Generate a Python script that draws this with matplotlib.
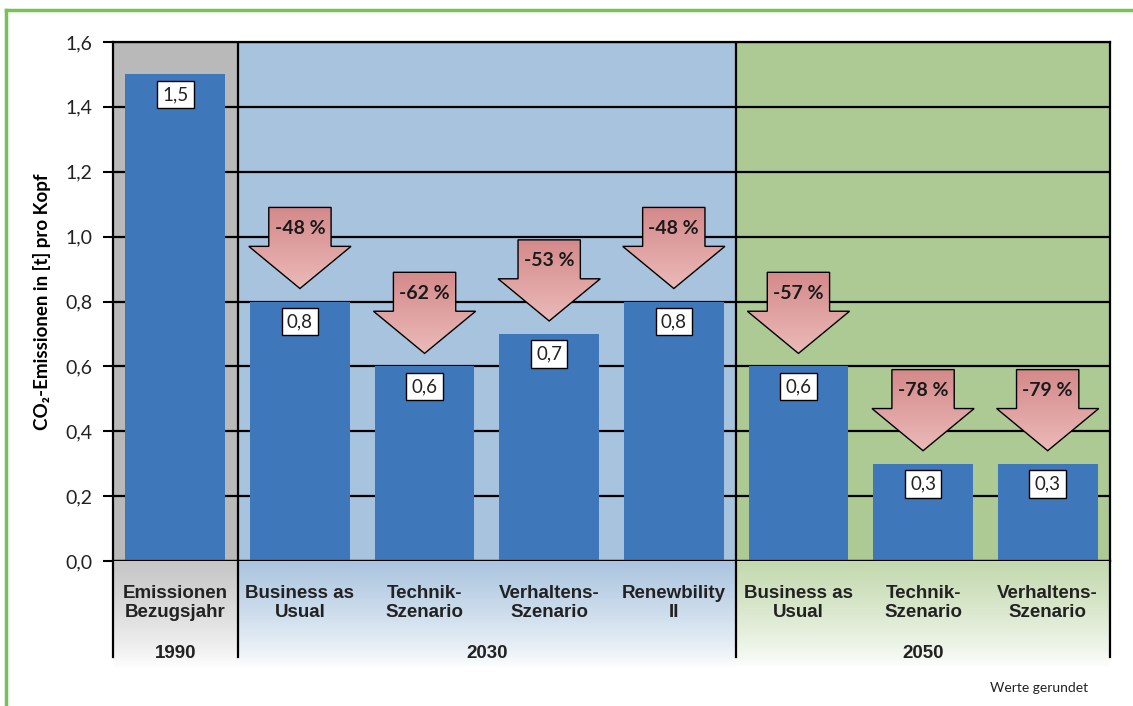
import matplotlib
matplotlib.use("Agg")
import matplotlib.pyplot as plt
import numpy as np
from matplotlib.patches import Polygon
from matplotlib.colors import LinearSegmentedColormap
from matplotlib.lines import Line2D

plt.rcParams['font.family'] = ['Lato', 'DejaVu Sans']

###  DATA  ###

categories = ["Emissionen\nBezugsjahr", "Business as\nUsual", "Technik-\nSzenario",
              "Verhaltens-\nSzenario", "Renewbility\nII", "Business as\nUsual",
              "Technik-\nSzenario", "Verhaltens-\nSzenario"]
values = [1.5, 0.8, 0.6, 0.7, 0.8, 0.6, 0.3, 0.3]
changes = [None, -48, -62, -53, -48, -57, -78, -79]
years = ["1990", "2030", "2050"]
year_first = [0, 1, 5]
year_last = [0, 4, 7]
yticks = [0.0, 0.2, 0.4, 0.6, 0.8, 1.0, 1.2, 1.4, 1.6]

bg_cols = ["#b9b9b9", "#a7c3dd", "#adca94"]
lbl_cols = ["#c6c6c6", "#abc5df", "#c3d9ae"]
bar_col = "#3f78ba"

###  PLOT  ###

W, H = 1133, 706
fig = plt.figure(figsize=(W / 100, H / 100), dpi=100)
ax = fig.add_axes([113 / W, 145 / H, 997 / W, 519 / H])
axl = fig.add_axes([113 / W, 38 / H, 997 / W, 107 / H])

n = len(values)
x = np.arange(n)

# group backgrounds
for i in range(len(years)):
    ax.axvspan(year_first[i] - 0.5, year_last[i] + 0.5, color=bg_cols[i], zorder=0, lw=0)

for t in yticks:
    ax.axhline(t, color='black', lw=1.6, zorder=1)

ax.bar(x, values, width=0.8, color=bar_col, zorder=2)

# value boxes
for xi, v in zip(x, values):
    ax.text(xi, v - 0.062, f"{v:.1f}".replace('.', ','), ha='center', va='center',
            fontsize=13.5, zorder=6, color='#222222',
            bbox=dict(boxstyle='square,pad=0.28', fc='white', ec='black', lw=1))

# arrows
arrow_cmap = LinearSegmentedColormap.from_list("arr", ["#ebbab8", "#d4898a"])
grad = np.linspace(0, 1, 100).reshape(-1, 1)
for xi, v, c in zip(x, values, changes):
    if c is None:
        continue
    tip = v + 0.04
    hb = tip + 0.13
    top = tip + 0.25
    sw, hw = 0.25, 0.41
    verts = [(xi - sw, top), (xi + sw, top), (xi + sw, hb), (xi + hw, hb),
             (xi, tip), (xi - hw, hb), (xi - sw, hb)]
    poly = Polygon(verts, closed=True, fc='none', ec='black', lw=1.0, zorder=5)
    ax.add_patch(poly)
    im = ax.imshow(grad, extent=[xi - hw, xi + hw, tip, top], origin='lower',
                   aspect='auto', cmap=arrow_cmap, zorder=4)
    im.set_clip_path(poly)
    ax.text(xi, tip + 0.185, f"{c} %", ha='center', va='center', fontsize=14,
            fontweight='bold', color='#1a1a1a', zorder=6)

# group separators
for b in [0.5, 4.5]:
    ax.axvline(b, color='black', lw=1.6, zorder=3)

ax.set_xlim(-0.5, n - 0.5)
ax.set_ylim(0, 1.6)
ax.set_yticks(yticks)
ax.set_yticklabels([f"{t:.1f}".replace('.', ',') for t in yticks], fontsize=14, color='#222222')
ax.set_xticks(np.arange(0.5, n - 0.5, 1))
ax.set_xticklabels([])
ax.tick_params(axis='x', length=4, width=1.5, direction='out')
ax.tick_params(axis='y', length=7, width=1.5, direction='out', pad=8)
for s in ax.spines.values():
    s.set_linewidth(1.6)
    s.set_color('black')
ax.set_ylabel("CO₂-Emissionen in [t] pro Kopf", fontsize=13.5, fontweight='bold', labelpad=10)

# label area below the axis
for i in range(len(years)):
    cm = LinearSegmentedColormap.from_list("g%d" % i, ["#ffffff", lbl_cols[i]])
    axl.imshow(np.linspace(0, 1, 100).reshape(-1, 1) ** 0.8,
               extent=[year_first[i] - 0.5, year_last[i] + 0.5, 0, 1],
               origin='lower', aspect='auto', cmap=cm, zorder=0)
for b in [-0.5, 0.5, 4.5, n - 0.5]:
    axl.plot([b, b], [0.103, 1], color='black', lw=1.6, zorder=2, clip_on=False)
for xi, lab in zip(x, categories):
    axl.text(xi, 0.607, lab, ha='center', va='center', fontsize=13.5, fontweight='bold',
             family='Liberation Sans', color='#222222', linespacing=1.15)
for i, yr in enumerate(years):
    axl.text((year_first[i] + year_last[i]) / 2, 0.131, yr, ha='center', va='center',
             fontsize=13.5, fontweight='bold', family='Liberation Sans', color='#222222')
axl.set_xlim(-0.5, n - 0.5)
axl.set_ylim(0, 1)
axl.axis('off')

fig.text(1088 / W, 1 - 688 / H, "Werte gerundet", ha='right', va='center', fontsize=10,
         color='#222222')

# green frame
fig.add_artist(Line2D([6 / W, 1], [1 - 10 / H, 1 - 10 / H], color='#77c158', lw=2.5))
fig.add_artist(Line2D([6 / W, 6 / W], [0, 1 - 10 / H], color='#77c158', lw=2.5))

fig.savefig('out.png', dpi=100)
